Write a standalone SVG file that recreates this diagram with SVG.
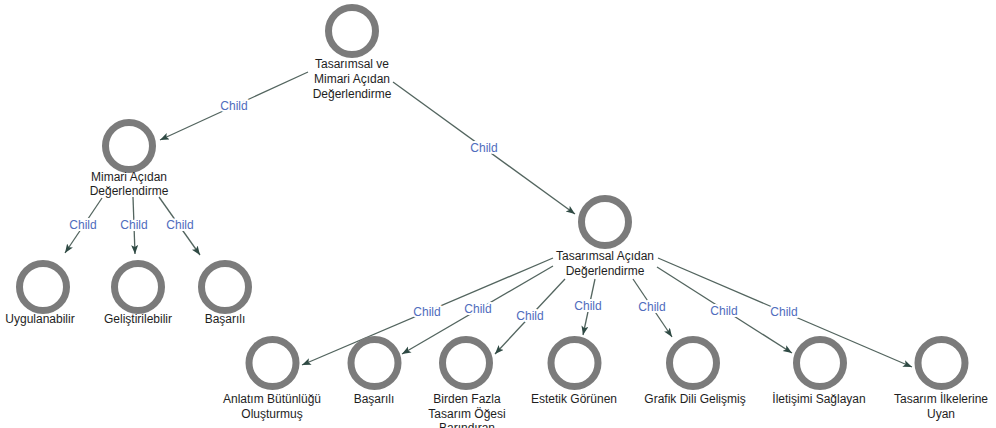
<svg xmlns="http://www.w3.org/2000/svg" width="996" height="428" viewBox="0 0 996 428">
<defs>
<style>
.ring{fill:none;stroke:#7b7b7b;stroke-width:7}
.lbl{font-family:"Liberation Sans",Arial,sans-serif;font-size:12px;fill:#1e1e1e;text-anchor:middle}
.edge{stroke:#53655f;stroke-width:1.3;fill:none;marker-end:url(#arr)}
.el{font-family:"Liberation Sans",Arial,sans-serif;font-size:12px;fill:#4f6cbd;text-anchor:middle;stroke:#fff;stroke-width:4;paint-order:stroke;stroke-linejoin:round}
</style>
<marker id="arr" markerUnits="userSpaceOnUse" markerWidth="10" markerHeight="8" refX="9" refY="3.5" orient="auto">
<path d="M0,0 L9,3.5 L0,7 L2,3.5 z" fill="#2f4a44"/>
</marker>
</defs>
<rect width="996" height="428" fill="#fff"/>
<g id="connectors">
<line class="edge" x1="308" y1="72" x2="160" y2="140"/>
<line class="edge" x1="393" y1="82" x2="575" y2="214"/>
<line class="edge" x1="102" y1="198" x2="65" y2="253"/>
<line class="edge" x1="133" y1="197" x2="135" y2="254"/>
<line class="edge" x1="159" y1="197" x2="200" y2="255"/>
<line class="edge" x1="553" y1="258" x2="302" y2="365"/>
<line class="edge" x1="553" y1="266" x2="402" y2="354"/>
<line class="edge" x1="565" y1="279" x2="495" y2="354"/>
<line class="edge" x1="595" y1="279" x2="583" y2="335"/>
<line class="edge" x1="633" y1="279" x2="672" y2="337"/>
<line class="edge" x1="657" y1="267" x2="792" y2="353"/>
<line class="edge" x1="658" y1="258" x2="912" y2="367"/>
<text class="el" x="234" y="110">Child</text>
<text class="el" x="484" y="152">Child</text>
<text class="el" x="83" y="229">Child</text>
<text class="el" x="134" y="229">Child</text>
<text class="el" x="180" y="229">Child</text>
<text class="el" x="427" y="316">Child</text>
<text class="el" x="478" y="313">Child</text>
<text class="el" x="530" y="320">Child</text>
<text class="el" x="588" y="310">Child</text>
<text class="el" x="652" y="311">Child</text>
<text class="el" x="724" y="315">Child</text>
<text class="el" x="784" y="316">Child</text>
</g>
<g id="n-root">
<circle class="ring" cx="352" cy="31" r="23.5"/>
<text class="lbl" x="352" y="68">Tasarımsal ve</text>
<text class="lbl" x="352" y="83">Mimari Açıdan</text>
<text class="lbl" x="352" y="97.5">Değerlendirme</text>
</g>
<g id="n-mimari">
<circle class="ring" cx="129" cy="146" r="23.5"/>
<text class="lbl" x="129" y="180.5">Mimari Açıdan</text>
<text class="lbl" x="129" y="194.5">Değerlendirme</text>
</g>
<g id="n-uygulanabilir">
<circle class="ring" cx="43" cy="287" r="23.5"/>
<text class="lbl" x="40" y="323">Uygulanabilir</text>
</g>
<g id="n-gelistirilebilir">
<circle class="ring" cx="138" cy="287" r="23.5"/>
<text class="lbl" x="138" y="323">Geliştirilebilir</text>
</g>
<g id="n-basarili1">
<circle class="ring" cx="225" cy="287" r="23.5"/>
<text class="lbl" x="225" y="323">Başarılı</text>
</g>
<g id="n-tasarimsal">
<circle class="ring" cx="605" cy="222" r="23.5"/>
<text class="lbl" x="605" y="259.5">Tasarımsal Açıdan</text>
<text class="lbl" x="605" y="274.5">Değerlendirme</text>
</g>
<g id="n-anlatim">
<circle class="ring" cx="272.5" cy="363" r="23.5"/>
<text class="lbl" x="272" y="402.5">Anlatım Bütünlüğü</text>
<text class="lbl" x="272" y="417.5">Oluşturmuş</text>
</g>
<g id="n-basarili2">
<circle class="ring" cx="374.5" cy="363" r="23.5"/>
<text class="lbl" x="374" y="402.5">Başarılı</text>
</g>
<g id="n-birden">
<circle class="ring" cx="466" cy="363" r="23.5"/>
<text class="lbl" x="467" y="402.5">Birden Fazla</text>
<text class="lbl" x="467" y="417.5">Tasarım Öğesi</text>
<text class="lbl" x="467" y="432">Barındıran</text>
</g>
<g id="n-estetik">
<circle class="ring" cx="574.5" cy="363" r="23.5"/>
<text class="lbl" x="574" y="402.5">Estetik Görünen</text>
</g>
<g id="n-grafik">
<circle class="ring" cx="693" cy="363" r="23.5"/>
<text class="lbl" x="695" y="402.5">Grafik Dili Gelişmiş</text>
</g>
<g id="n-iletisimi">
<circle class="ring" cx="820" cy="363" r="23.5"/>
<text class="lbl" x="819" y="402.5">İletişimi Sağlayan</text>
</g>
<g id="n-ilkeler">
<circle class="ring" cx="941.5" cy="363" r="23.5"/>
<text class="lbl" x="941" y="402.5">Tasarım İlkelerine</text>
<text class="lbl" x="941" y="417.5">Uyan</text>
</g>
</svg>
